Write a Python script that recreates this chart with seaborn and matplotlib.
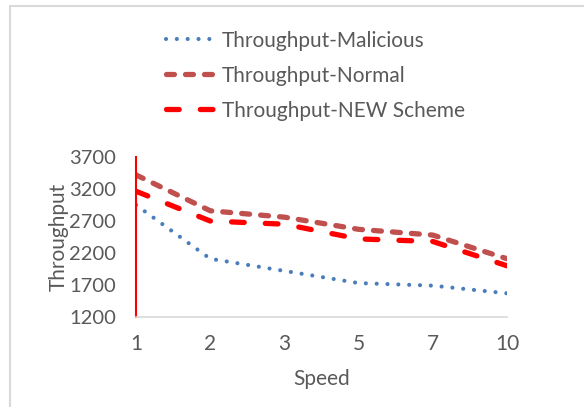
import seaborn as sns
import matplotlib.pyplot as plt
from matplotlib.patches import Rectangle

speeds = ["1", "2", "3", "5", "7", "10"]
malicious = [2950, 2110, 1920, 1730, 1690, 1570]
normal = [3420, 2860, 2760, 2570, 2480, 2110]
new_scheme = [3165, 2700, 2650, 2420, 2380, 2000]
yticks = [1200, 1700, 2200, 2700, 3200, 3700]

sns.set_style("white")
plt.rcParams["font.family"] = ["Lato", "DejaVu Sans"]
grey = "#595959"

fig = plt.figure(figsize=(5.84, 4.07), dpi=100)
ax = fig.add_axes([136 / 584, 1 - 317 / 407, (507 - 136) / 584, 160 / 407])

sns.lineplot(x=speeds, y=malicious, ax=ax, color="#4a7ebb", lw=3.0,
             linestyle=(0, (0.001, 2.6)), label="Throughput-Malicious", sort=False)
sns.lineplot(x=speeds, y=normal, ax=ax, color="#c0504d", lw=3.8,
             linestyle=(0, (1.5, 2.1)), label="Throughput-Normal", sort=False)
sns.lineplot(x=speeds, y=new_scheme, ax=ax, color="#ff0000", lw=3.8,
             linestyle=(0, (2.4, 4.0)), label="Throughput-NEW Scheme", sort=False)
for l in ax.get_lines():
    l.set_dash_capstyle("round")

ax.set_ylim(1200, 3700)
ax.set_yticks(yticks)
ax.set_xlim(0, len(speeds) - 1)
ax.set_xticks(range(len(speeds)))
ax.set_xticklabels(speeds)

for s in ["top", "right"]:
    ax.spines[s].set_visible(False)
ax.spines["left"].set_color("red")
ax.spines["left"].set_linewidth(1.5)
ax.spines["bottom"].set_color("#d9d9d9")
ax.spines["bottom"].set_linewidth(1.2)
ax.tick_params(axis="y", labelcolor=grey, labelsize=14.5, length=5, width=1.5,
               direction="inout", color="red", pad=12)
ax.tick_params(axis="x", labelcolor=grey, labelsize=15, length=5, width=1.2,
               direction="in", color="#d9d9d9", pad=12)
ax.set_xlabel("Speed", color=grey, fontsize=15, labelpad=11)
ax.set_ylabel("Throughput", color=grey, fontsize=15, labelpad=0)

h, lab = ax.get_legend_handles_labels()
ax.get_legend().remove()
fig.legend(h, lab, loc="upper left", bbox_to_anchor=(147 / 584, 1 - 12 / 407),
           frameon=False, fontsize=15, labelcolor=grey, handlelength=2.4,
           labelspacing=0.72, handletextpad=0.3)

fig.patches.append(Rectangle((10 / 584, -0.02), 1.0, 1 - 6 / 407 + 0.02,
                             transform=fig.transFigure, fill=False,
                             edgecolor="#d9d9d9", lw=1.5))

fig.savefig("out.png", dpi=100)
